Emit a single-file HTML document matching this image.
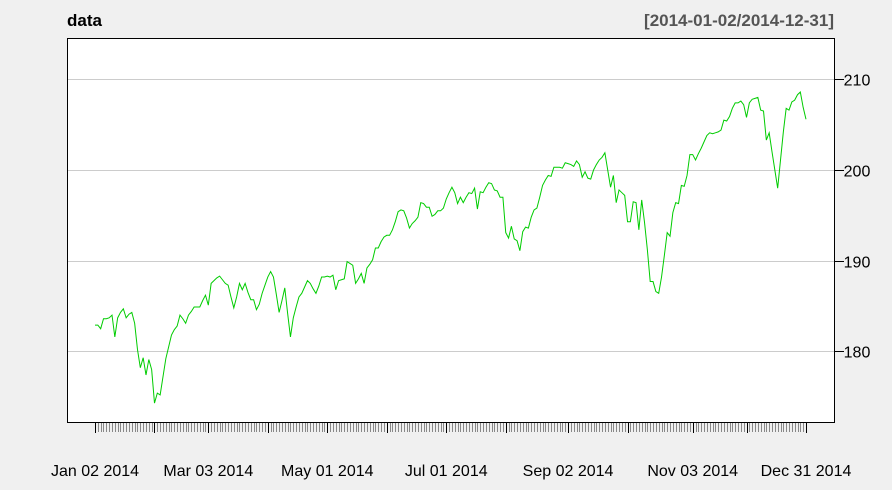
<!DOCTYPE html>
<html><head><meta charset="utf-8"><style>
html,body{margin:0;padding:0;background:#f0f0f0;}
svg{display:block;font-family:"Liberation Sans",Arial,sans-serif;}
</style></head><body>
<svg id="chart" width="892" height="490" viewBox="0 0 892 490">
<rect x="0" y="0" width="892" height="490" fill="#f0f0f0"/>
<text x="67" y="26" font-size="17" font-weight="bold" fill="#000">data</text>
<text x="834" y="26" font-size="17" font-weight="bold" fill="#555" text-anchor="end">[2014-01-02/2014-12-31]</text>
<rect x="67.5" y="38.5" width="767" height="384" fill="#fff" stroke="none"/>
<g id="grid"></g>
<g id="series"></g>
<rect x="67.5" y="38.5" width="767" height="384" fill="none" stroke="#000" stroke-width="1"/>
<g id="xaxis"></g>
<g id="yaxis"></g>
</svg>
<script>
const values = [182.9,182.9,182.5,183.6,183.6,183.7,184.0,181.6,183.7,184.3,
184.7,183.7,184.1,184.3,183.1,180.2,178.2,179.3,177.4,179.1,
178.0,174.3,175.4,175.2,177.2,179.2,180.5,181.8,182.4,182.8,
184.0,183.6,183.1,184.0,184.4,184.9,184.9,184.9,185.6,186.2,
185.1,187.5,187.8,188.1,188.3,187.9,187.5,187.3,186.0,184.8,
186.0,187.5,186.8,187.5,186.5,185.7,185.7,184.6,185.2,186.4,
187.3,188.2,188.8,188.2,186.3,184.3,185.6,187.0,184.2,181.6,
183.7,184.9,186.0,186.4,187.1,187.8,187.5,186.9,186.4,187.2,
188.2,188.2,188.3,188.2,188.4,186.8,187.8,187.9,188.0,189.9,
189.7,189.5,187.5,188.0,188.6,187.5,189.2,189.6,190.1,191.4,
191.4,192.1,192.6,192.8,192.8,193.4,194.3,195.4,195.6,195.5,
194.7,193.6,194.1,194.4,194.8,196.4,196.3,195.9,195.9,194.9,
195.1,195.5,195.5,195.8,196.8,197.5,198.1,197.5,196.3,197.0,
196.4,197.0,197.5,197.4,198.0,195.7,197.6,197.5,198.1,198.6,
198.5,197.8,197.7,197.0,197.0,193.1,192.5,193.8,192.4,192.2,
191.1,193.2,193.7,193.6,194.8,195.6,195.8,197.0,198.3,198.9,
199.4,199.3,200.3,200.3,200.3,200.2,200.8,200.7,200.6,200.4,
201.0,200.6,199.2,199.8,199.1,199.0,200.0,200.6,201.1,201.4,
201.9,200.0,198.1,199.4,196.4,197.8,197.5,197.2,194.3,194.3,
196.5,196.4,193.4,196.7,194.2,191.2,187.7,187.7,186.6,186.4,
188.2,190.6,193.1,192.7,195.3,196.4,196.3,198.3,198.2,199.4,
201.7,201.7,201.1,201.8,202.4,203.1,203.8,204.1,204.0,204.1,
204.2,204.4,205.5,205.4,205.9,206.8,207.4,207.4,207.6,207.2,
205.8,207.4,207.8,207.9,208.0,206.6,206.5,203.3,204.1,202.0,
200.0,198.0,201.1,204.2,206.8,206.6,207.5,207.7,208.3,208.6,
206.9,205.6];
const yTicks = [180,190,200,210];
const majorTickIdx = [0,21,40,61,82,103,124,145,167,188,211,230,251];
const labelIdx = [0,40,82,124,167,211,251];
const labelText = ["Jan 02 2014","Mar 03 2014","May 01 2014","Jul 01 2014","Sep 02 2014","Nov 03 2014","Dec 31 2014"];

const NS = "http://www.w3.org/2000/svg";
const X0 = 95, X1 = 806;
function xScale(i){ return X0 + i*(X1-X0)/(values.length-1); }
function yScale(v){ return 170 - (v-200)*9.07; }
function mk(tag, attrs, parent){
  const e = document.createElementNS(NS, tag);
  for (const k in attrs) e.setAttribute(k, attrs[k]);
  parent.appendChild(e); return e;
}
const grid = document.getElementById('grid');
const yaxis = document.getElementById('yaxis');
yTicks.forEach(t=>{
  const y = Math.round(yScale(t))+0.5;
  const g = mk('line',{x1:68,x2:834,y1:y,y2:y,stroke:'#cccccc','stroke-width':1},grid);
  
  
  const tk = mk('line',{x1:834,x2:844,y1:y,y2:y,stroke:'#000','stroke-width':1},yaxis);
  
  
  const tx = mk('text',{x:857,y:y+6,'font-size':16,'text-anchor':'middle',fill:'#000'},yaxis);
  tx.textContent = t;
  
  
});
const series = document.getElementById('series');
let d = values.map((v,i)=>(i?'L':'M')+xScale(i).toFixed(2)+' '+yScale(v).toFixed(2)).join(' ');
const line = mk('path',{d:d,fill:'none',stroke:'#00cc00','stroke-width':1},series);


const xaxis = document.getElementById('xaxis');
values.forEach((v,i)=>{
  if (majorTickIdx.includes(i)) return;
  const x = Math.round(xScale(i))+0.5;
  const t = mk('line',{x1:x,x2:x,y1:423,y2:432,stroke:'#888','stroke-width':1},xaxis);
  
  
});
majorTickIdx.forEach(i=>{
  const x = Math.round(xScale(i))+0.5;
  const t = mk('line',{x1:x,x2:x,y1:423,y2:433,stroke:'#000','stroke-width':1},xaxis);
  
  
});
labelIdx.forEach((i,k)=>{
  const tx = mk('text',{x:xScale(i),y:476,'font-size':16,'text-anchor':'middle',fill:'#000'},xaxis);
  tx.textContent = labelText[k];
  
  
});
</script>
</body></html>
